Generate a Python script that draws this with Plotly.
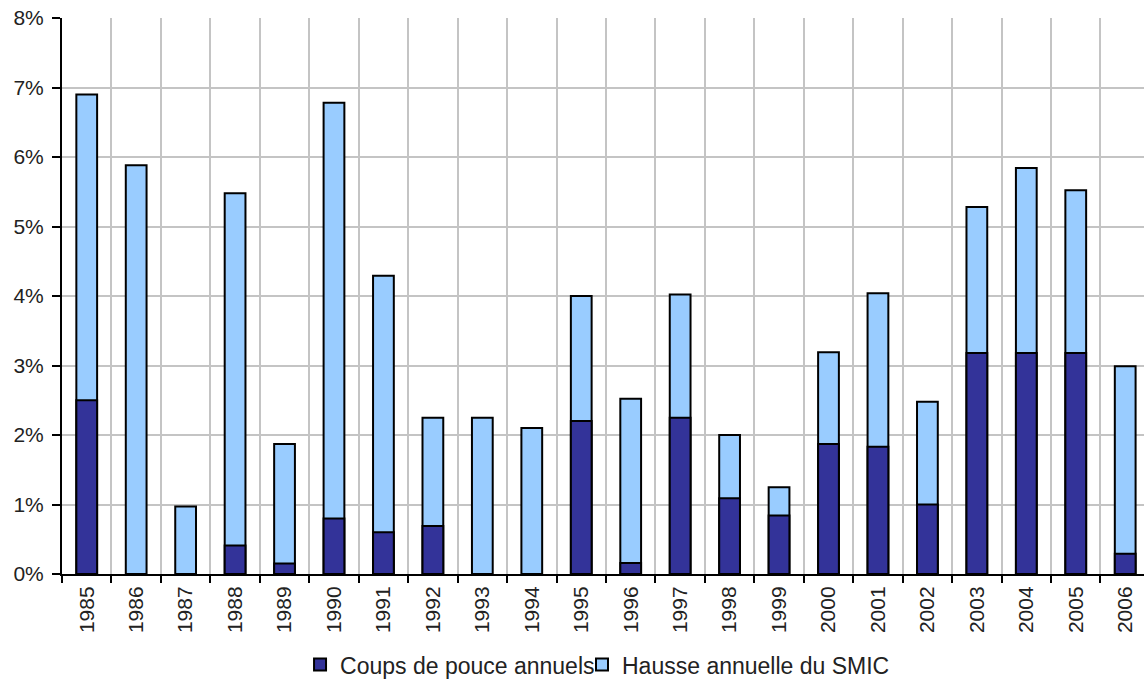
import plotly.graph_objects as go

# Annual SMIC increases and the discretionary "coup de pouce" share, in %
years = [str(y) for y in range(1985, 2007)]
hausse_smic = [6.90, 5.88, 0.97, 5.48, 1.87, 6.78, 4.29, 2.25, 2.25, 2.10, 4.00,
               2.52, 4.02, 2.00, 1.25, 3.19, 4.04, 2.48, 5.28, 5.84, 5.52, 2.99]
coups_de_pouce = [2.50, 0.00, 0.00, 0.41, 0.15, 0.80, 0.60, 0.69, 0.00, 0.00, 2.20,
                  0.16, 2.25, 1.09, 0.84, 1.87, 1.83, 1.00, 3.18, 3.18, 3.18, 0.29]
y_ticks = list(range(0, 9))
y_tick_labels = [f"{v}%" for v in y_ticks]

DARK = "#333399"
LIGHT = "#99CCFF"
FONT = "Liberation Sans, Arial, sans-serif"
TEXT = "#222222"

fig = go.Figure()

# Total yearly increase drawn first, coup de pouce overlaid from the baseline
fig.add_trace(go.Bar(
    x=years, y=hausse_smic, name="Hausse annuelle du SMIC",
    marker=dict(color=LIGHT, line=dict(color="black", width=2)),
    width=0.42, legend="legend2",
))
fig.add_trace(go.Bar(
    x=years, y=coups_de_pouce, name="Coups de pouce annuels",
    marker=dict(color=DARK, line=dict(color="black", width=2)),
    width=0.42, legend="legend",
))

legend_style = dict(
    orientation="h", xanchor="left", y=-0.163, yanchor="middle",
    font=dict(size=23, color=TEXT), bgcolor="rgba(0,0,0,0)", itemwidth=30,
)

fig.update_layout(
    width=1144, height=682,
    margin=dict(l=62, r=0, t=18, b=108, autoexpand=False),
    barmode="overlay",
    plot_bgcolor="white", paper_bgcolor="white",
    font=dict(family=FONT, color=TEXT),
    showlegend=True,
    legend=dict(x=0.22, **legend_style),
    legend2=dict(x=0.4806, **legend_style),
    xaxis=dict(
        type="category", tickson="boundaries", range=[-0.5, 21.38],
        showgrid=True, gridcolor="#c4c4c4", gridwidth=2,
        showline=True, linecolor="black", linewidth=2,
        ticks="outside", ticklen=7, tickwidth=2, tickcolor="black",
        tickangle=-90, tickfont=dict(size=21, color=TEXT),
        ticklabelstandoff=2,
        zeroline=False,
    ),
    yaxis=dict(
        range=[0, 8], tickmode="array", tickvals=y_ticks, ticktext=y_tick_labels,
        showgrid=True, gridcolor="#c4c4c4", gridwidth=2,
        showline=True, linecolor="black", linewidth=2,
        ticks="outside", ticklen=8, tickwidth=2, tickcolor="black",
        tickfont=dict(size=21, color=TEXT), ticklabelstandoff=4,
        zeroline=False,
    ),
)

fig.write_html("out.html")
